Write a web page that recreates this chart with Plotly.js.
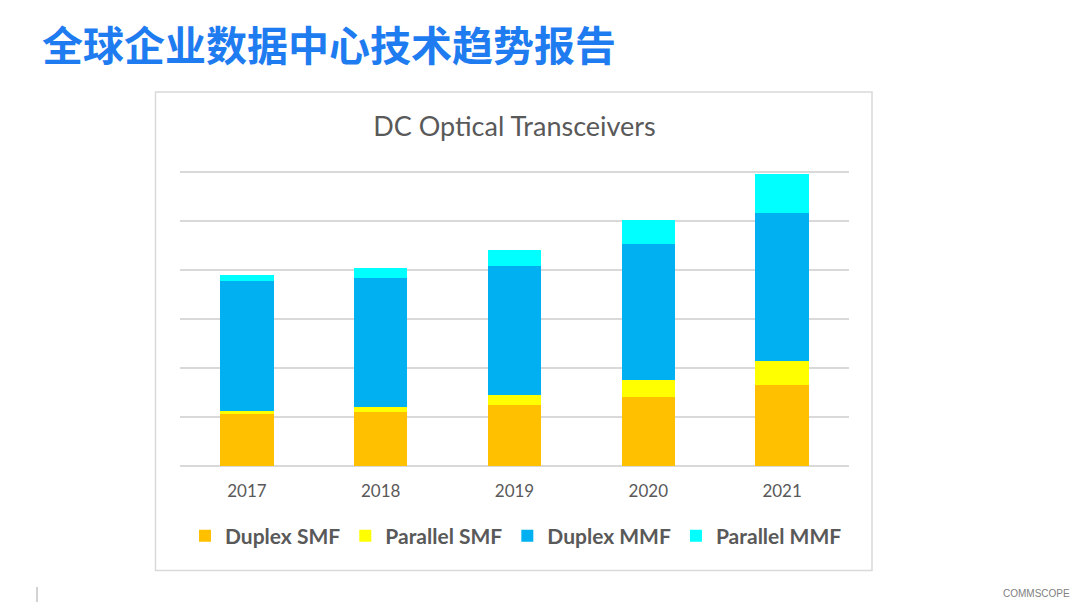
<!DOCTYPE html>
<html>
<head>
<meta charset="utf-8">
<script src="https://cdn.plot.ly/plotly-3.0.1.min.js"></script>
<style>
  html, body { margin: 0; padding: 0; background: #ffffff; }
  #chart { width: 1080px; height: 606px; }
</style>
</head>
<body>
<div id="chart"></div>
<script>
// Data (units = gridline steps; no y labels shown)
const years = ['2017', '2018', '2019', '2020', '2021'];
const duplexSMF   = [1.07, 1.11, 1.24, 1.40, 1.66];
const parallelSMF = [0.06, 0.10, 0.21, 0.36, 0.49];
const duplexMMF   = [2.65, 2.63, 2.64, 2.77, 3.01];
const parallelMMF = [0.12, 0.20, 0.32, 0.49, 0.79];

const seriesNames  = ['Duplex SMF', 'Parallel SMF', 'Duplex MMF', 'Parallel MMF'];
const seriesValues = [duplexSMF, parallelSMF, duplexMMF, parallelMMF];
const seriesColors = ['#FFC000', '#FFFF00', '#00B0F0', '#00FFFF'];

const slideTitle = '全球企业数据中心技术趋势报告';
const chartTitle = 'DC Optical Transceivers';
const logoText = 'COMMSCOPE';

const traces = seriesNames.map((name, i) => ({
  type: 'bar',
  name: name,
  x: years,
  y: seriesValues[i],
  marker: { color: seriesColors[i], line: { width: 0 } },
  hoverinfo: 'x+y+name'
}));

// plot area geometry
const L = 180, R = 231, T = 170, B = 140, W = 1080, H = 606;
const pw = W - L - R, ph = H - T - B;
const px = x => (x - L) / pw;
const py = y => (H - B - y) / ph;

const layout = {
  width: W,
  height: H,
  margin: { l: L, r: R, t: T, b: B, pad: 0 },
  paper_bgcolor: '#ffffff',
  plot_bgcolor: '#ffffff',
  barmode: 'stack',
  bargap: 0.6,
  font: { family: 'Lato, "Open Sans", sans-serif', color: '#595959' },
  title: {
    text: chartTitle,
    font: { family: 'Lato, "Open Sans", sans-serif', size: 27, color: '#595959' },
    x: 0.5 * (L + L + pw) / W,
    xanchor: 'center',
    y: 1 - 127 / H,
    yanchor: 'middle'
  },
  xaxis: {
    type: 'category',
    showgrid: false,
    showline: false,
    zeroline: false,
    ticks: '',
    ticklabelstandoff: 13,
    tickfont: { family: 'Lato, "Open Sans", sans-serif', size: 17, color: '#595959' },
    fixedrange: true
  },
  yaxis: {
    range: [0, 6.04],
    dtick: 1,
    showgrid: true,
    gridcolor: '#d9d9d9',
    gridwidth: 1.5,
    zeroline: true,
    zerolinecolor: '#d9d9d9',
    zerolinewidth: 1.5,
    showticklabels: false,
    ticks: '',
    showline: false,
    fixedrange: true
  },
  showlegend: true,
  legend: {
    orientation: 'h',
    x: px(516),
    xanchor: 'center',
    y: py(536),
    yanchor: 'middle',
    traceorder: 'normal',
    font: { family: 'Lato, "Open Sans", sans-serif', size: 21, color: '#595959', weight: 'bold' },
    bgcolor: 'rgba(0,0,0,0)'
  },
  shapes: [
    { type: 'rect', xref: 'paper', yref: 'paper', layer: 'below',
      x0: px(155.5), x1: px(872), y0: py(570.5), y1: py(92),
      line: { color: '#d9d9d9', width: 1.5 }, fillcolor: 'rgba(0,0,0,0)' },
    { type: 'line', xref: 'paper', yref: 'paper',
      x0: px(37), x1: px(37), y0: py(587), y1: py(602),
      line: { color: '#a6a6a6', width: 1 } }
  ],
  annotations: [
    { text: slideTitle, xref: 'paper', yref: 'paper', x: px(40), y: py(43),
      xanchor: 'left', yanchor: 'middle', showarrow: false,
      font: { family: '"Noto Sans CJK SC", sans-serif', size: 41, color: '#1E7CF0', weight: 'bold' } },
    { text: logoText, xref: 'paper', yref: 'paper', x: px(1072), y: py(593),
      xanchor: 'right', yanchor: 'middle', showarrow: false,
      font: { family: '"Liberation Sans Narrow", "Liberation Sans", sans-serif', size: 10, color: '#808080' } }
  ]
};

Plotly.newPlot('chart', traces, layout, { displayModeBar: false, responsive: false });
</script>
</body>
</html>
